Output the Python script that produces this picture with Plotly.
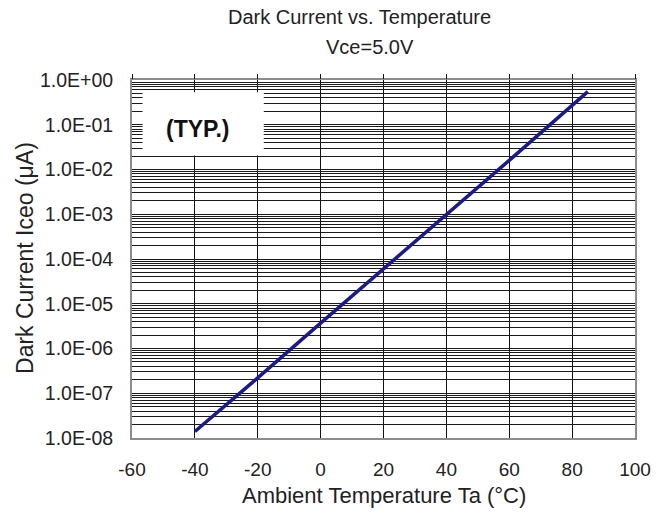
import plotly.graph_objects as go

# Dark current Iceo vs ambient temperature at Vce = 5.0 V
temp_c = [-40, -20, 0, 20, 40, 60, 85]
iceo_ua = [1.4e-8, 2.2e-7, 3.7e-6, 6.0e-5, 1.0e-3, 1.6e-2, 5.5e-1]

x_ticks = [-60, -40, -20, 0, 20, 40, 60, 80, 100]
x_labels = ["-60", "-40", "-20", "0", "20", "40", "60", "80", "100"]
decade_exps = [0, -1, -2, -3, -4, -5, -6, -7, -8]
decade_labels = ["1.0E+00", "1.0E-01", "1.0E-02", "1.0E-03", "1.0E-04",
                 "1.0E-05", "1.0E-06", "1.0E-07", "1.0E-08"]

# major decades carry labels, 2..9 multiples get gridlines only
y_vals, y_text = [], []
for e, lab in zip(decade_exps, decade_labels):
    y_vals.append(10.0 ** e)
    y_text.append(lab)
    if e > -8:
        for m in range(2, 10):
            y_vals.append(m * 10.0 ** (e - 1))
            y_text.append("")

FONT = "Liberation Sans, Arial, sans-serif"
TXT = "#222222"
FRAME = "#8c8c8c"

fig = go.Figure()
fig.add_trace(go.Scatter(
    x=temp_c, y=iceo_ua, mode="lines",
    line=dict(color="#1a1a8c", width=3.5),
    showlegend=False, hoverinfo="skip",
))
# invisible trace so the top tick axis is drawn
fig.add_trace(go.Scatter(
    x=temp_c, y=iceo_ua, xaxis="x2", mode="lines",
    line=dict(width=0), opacity=0, showlegend=False, hoverinfo="skip",
))

fig.update_layout(
    width=668, height=516,
    margin=dict(l=132, r=33, t=80, b=78),
    paper_bgcolor="white", plot_bgcolor="white",
    font=dict(family=FONT, color=TXT),
    xaxis=dict(
        range=[-60, 100], tickmode="array", tickvals=x_ticks, ticktext=x_labels,
        showgrid=True, gridcolor="#111111", gridwidth=1,
        zeroline=False, showline=True, linecolor=FRAME, linewidth=2,
        mirror=True, ticks="", ticklabelstandoff=13,
        tickfont=dict(size=19, color=TXT),
    ),
    xaxis2=dict(
        range=[-60, 100], overlaying="x", side="top", anchor="y",
        tickmode="array", tickvals=x_ticks, showticklabels=False,
        ticks="outside", ticklen=5, tickcolor="#111111", tickwidth=1,
        showgrid=False, zeroline=False, showline=False,
    ),
    yaxis=dict(
        type="log", range=[-8, 0], tickmode="array",
        tickvals=y_vals, ticktext=y_text,
        showgrid=True, gridcolor="#1a1a1a", gridwidth=1,
        zeroline=False, showline=True, linecolor=FRAME, linewidth=2,
        mirror=True, ticks="", ticklabelstandoff=13,
        tickfont=dict(size=19.5, color=TXT),
    ),
    shapes=[dict(
        type="rect", xref="paper", yref="paper",
        x0=0.021, x1=0.262, y0=0.789, y1=0.966,
        fillcolor="white", line=dict(width=0), layer="above",
    )],
    annotations=[
        dict(text="<b>(TYP.)</b>", xref="paper", yref="paper", x=0.131, y=0.862,
             showarrow=False, font=dict(size=23, color="#111111"),
             xanchor="center", yanchor="middle"),
        dict(text="Dark Current vs. Temperature", xref="paper", yref="paper",
             x=0.453, y=1.176, showarrow=False,
             font=dict(size=20, color=TXT), xanchor="center", yanchor="middle"),
        dict(text="Vce=5.0V", xref="paper", yref="paper",
             x=0.473, y=1.092, showarrow=False,
             font=dict(size=20, color=TXT), xanchor="center", yanchor="middle"),
        dict(text="Dark Current Iceo (μA)", xref="paper", yref="paper",
             x=-0.2127, y=0.503, textangle=-90, showarrow=False,
             font=dict(size=23, color=TXT), xanchor="center", yanchor="middle"),
        dict(text="Ambient Temperature Ta (°C)", xref="paper", yref="paper",
             x=0.5, y=-0.162, showarrow=False,
             font=dict(size=22, color=TXT), xanchor="center", yanchor="middle"),
    ],
)

fig.write_html("out.html")
